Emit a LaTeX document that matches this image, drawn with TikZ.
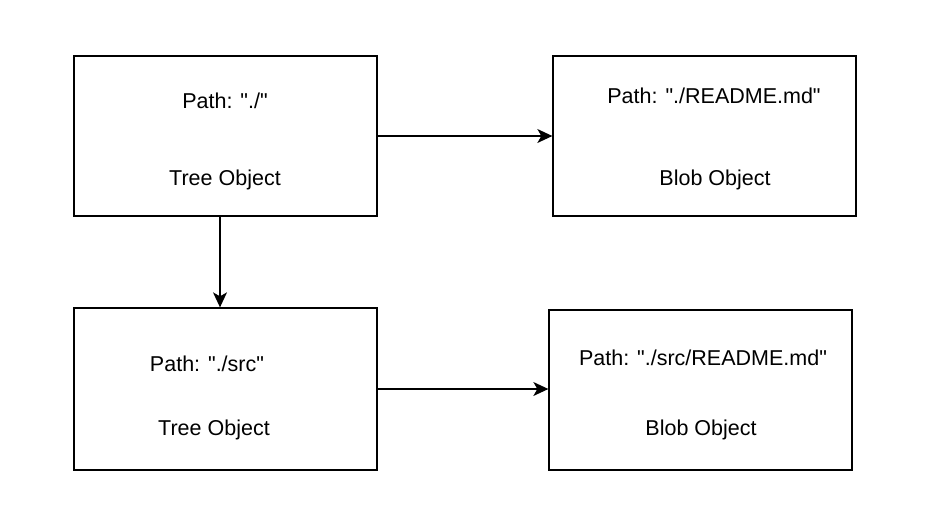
\documentclass[tikz,border=0pt]{standalone}
\usepackage{fontspec}
\newfontfamily\diagfont{Liberation Sans}
\usepackage{tikz}
\usetikzlibrary{shapes,arrows.meta}
\tikzstyle{objblock} = [rectangle, draw, line width=1.3pt, minimum width=303pt, minimum height=160pt]
\tikzstyle{label} = [inner sep=0pt, font=\diagfont\fontsize{21.5}{25}\selectfont]
\tikzstyle{arrow} = [draw, -{Stealth[length=15pt,width=14pt,inset=4pt]}, line width=1.3pt]

\begin{document}
\begin{tikzpicture}[x=1pt, y=-1pt]
    \useasboundingbox (0,0) rectangle (940,528);
    % Place nodes
    \node [objblock] (treeRoot) at (225.5,136) {};
    \node [objblock] (blobReadme) at (704.5,136) {};
    \node [objblock, minimum height=162pt] (treeSrc) at (225.5,389) {};
    \node [objblock] (blobSrcReadme) at (700.5,390) {};
%
    \node [label] (treeRootPath) at (225,101) {Path: "./"};
    \node [label] (treeRootType) at (225,180) {Tree Object};
    \node [label] (blobReadmePath) at (714,96) {Path: "./README.md"};
    \node [label] (blobReadmeType) at (715,180) {Blob Object};
    \node [label] (treeSrcPath) at (207,364) {Path: "./src"};
    \node [label] (treeSrcType) at (214,430) {Tree Object};
    \node [label] (blobSrcReadmePath) at (703,358) {Path: "./src/README.md"};
    \node [label] (blobSrcReadmeType) at (701,430) {Blob Object};
    % Connectors
    \path [arrow] (treeRoot.east) -- (blobReadme.west);
    \path [arrow] ([xshift=-5.5pt]treeRoot.south) -- ([xshift=-5.5pt]treeSrc.north);
    \path [arrow] (treeSrc.east) -- (treeSrc.east -| blobSrcReadme.west);
\end{tikzpicture}
\end{document}
